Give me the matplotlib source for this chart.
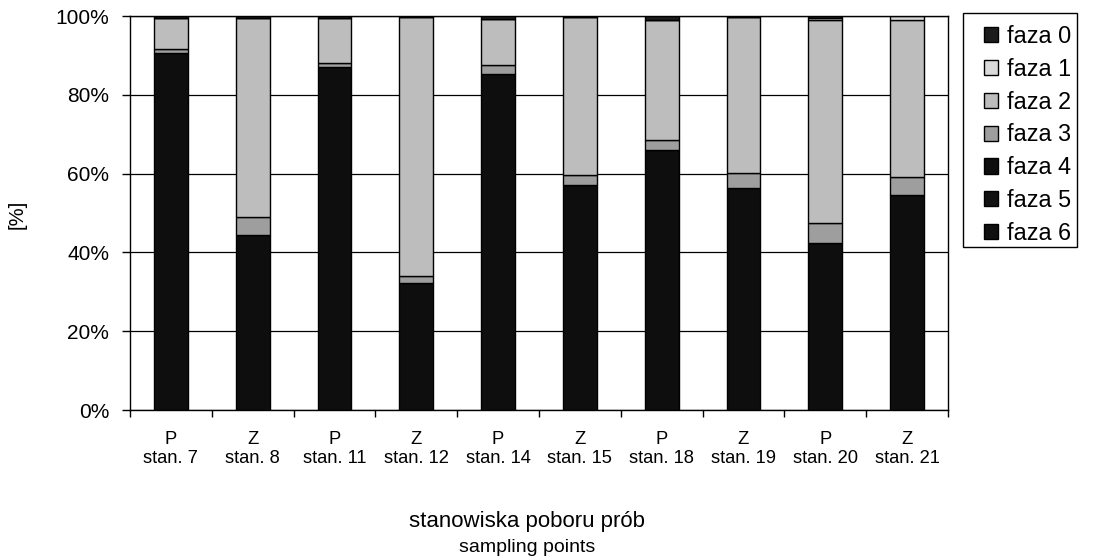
import matplotlib.pyplot as plt
import numpy as np
from matplotlib.ticker import FuncFormatter, FixedLocator
from matplotlib.patches import Patch, Rectangle

plt.rcParams['font.family'] = ['Liberation Sans', 'DejaVu Sans']

# Sampling points: site type (P / Z) and station number
site_type = ["P", "Z", "P", "Z", "P", "Z", "P", "Z", "P", "Z"]
stations = ["stan. 7", "stan. 8", "stan. 11", "stan. 12", "stan. 14",
            "stan. 15", "stan. 18", "stan. 19", "stan. 20", "stan. 21"]

# Share of each phase [%] per sampling point
phase_names = ["faza 0", "faza 1", "faza 2", "faza 3", "faza 4", "faza 5", "faza 6"]
faza0 = [0.5, 0.5, 0.5, 0.3, 0.8, 0.3, 1.1, 0.3, 0.4, 0.0]
faza1 = [0.0, 0.0, 0.0, 0.0, 0.0, 0.0, 0.0, 0.0, 0.6, 1.0]
faza2 = [7.9, 50.5, 11.4, 65.7, 11.6, 40.1, 30.4, 39.5, 51.5, 39.9]
faza3 = [1.0, 4.6, 1.0, 1.8, 2.3, 2.5, 2.5, 3.9, 5.1, 4.5]
faza4 = [90.6, 44.4, 87.1, 32.2, 85.3, 57.1, 66.0, 56.3, 42.4, 54.6]
faza5 = [0.0, 0.0, 0.0, 0.0, 0.0, 0.0, 0.0, 0.0, 0.0, 0.0]
faza6 = [0.0, 0.0, 0.0, 0.0, 0.0, 0.0, 0.0, 0.0, 0.0, 0.0]

series = [faza0, faza1, faza2, faza3, faza4, faza5, faza6]
colors = ["#1c1c1c", "#dadada", "#bdbdbd", "#9e9e9e", "#0e0e0e", "#121212", "#101010"]

W, H = 1099, 558
fig = plt.figure(figsize=(W / 100, H / 100), dpi=100)
ax = fig.add_axes([130 / W, 1 - 410 / H, 818 / W, 394 / H])

x = np.arange(len(stations))
width = 0.415
bottom = np.zeros(len(stations))
handles = {}
# stack from the last phase (bottom) up to faza 0 (top)
for i in range(len(series) - 1, -1, -1):
    vals = np.array(series[i], dtype=float)
    ax.bar(x, vals, width, bottom=bottom, color=colors[i],
           edgecolor="black", linewidth=1.0, zorder=3)
    bottom += vals
    handles[i] = Patch(facecolor=colors[i], edgecolor="black", linewidth=1.0)

ax.set_xlim(-0.5, len(stations) - 0.5)
ax.set_ylim(0, 100)

# y axis: percentages with gridlines
ax.set_yticks(np.arange(0, 101, 20))
ax.yaxis.set_major_formatter(FuncFormatter(lambda v, p: f"{int(v)}%"))
ax.tick_params(axis="y", direction="out", length=6, width=1, labelsize=15, pad=9)
ax.grid(axis="y", color="black", linewidth=0.9, zorder=0)

# x axis: category labels centred, ticks at category boundaries
ax.set_xticks(x)
ax.set_xticklabels([f"{t}\n{s}" for t, s in zip(site_type, stations)],
                   fontsize=13.2, linespacing=1.2)
ax.tick_params(axis="x", which="major", length=0, pad=15)
ax.xaxis.set_minor_locator(FixedLocator(np.arange(-0.5, len(stations), 1.0)))
ax.tick_params(axis="x", which="minor", direction="out", length=5, width=1)

for sp in ax.spines.values():
    sp.set_linewidth(1.0)
    sp.set_color("black")

fig.text(17 / W, 1 - 214 / H, "[%]", rotation=90, ha="center", va="center",
         fontsize=14.5)
fig.text(527 / W, 1 - 521 / H, "stanowiska poboru prób", ha="center",
         va="center", fontsize=16)
fig.text(527 / W, 1 - 547 / H, "sampling points", ha="center",
         va="center", fontsize=14)

# legend: frame drawn as a plain box, entries placed inside it
fig.patches.append(Rectangle((963 / W, 1 - 247 / H), 114 / W, 234 / H,
                             transform=fig.transFigure, facecolor="white",
                             edgecolor="black", linewidth=1.0, zorder=1))
leg = fig.legend([handles[i] for i in range(len(series))], phase_names,
                 loc="upper left", bbox_to_anchor=(984 / W, 1 - 25 / H),
                 fontsize=16.8, frameon=False,
                 handlelength=0.62, handleheight=0.62, handletextpad=0.38,
                 labelspacing=0.42, borderpad=0, borderaxespad=0)
leg.set_zorder(2)

fig.savefig("out.png", dpi=100)
